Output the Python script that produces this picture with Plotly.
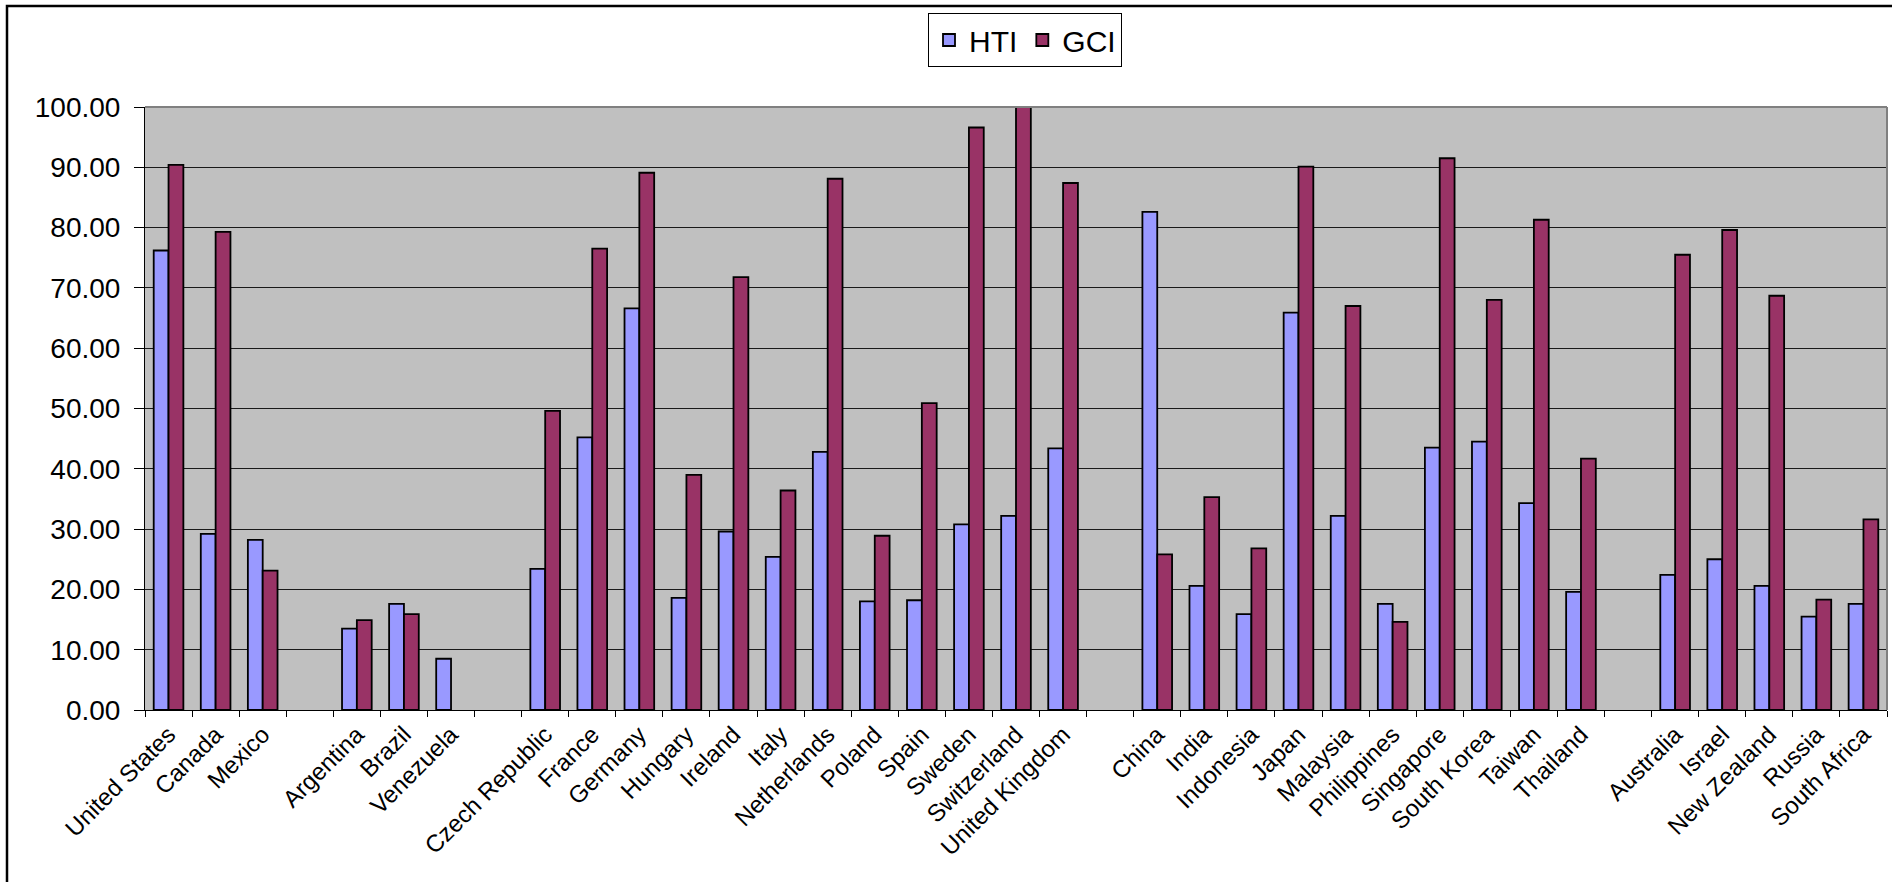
import plotly.graph_objects as go

# Country slots; blank entries separate the regional groups
countries = [
    "United States", "Canada", "Mexico", " ",
    "Argentina", "Brazil", "Venezuela", "  ",
    "Czech Republic", "France", "Germany", "Hungary", "Ireland", "Italy",
    "Netherlands", "Poland", "Spain", "Sweden", "Switzerland", "United Kingdom", "   ",
    "China", "India", "Indonesia", "Japan", "Malaysia", "Philippines", "Singapore",
    "South Korea", "Taiwan", "Thailand", "    ",
    "Australia", "Israel", "New Zealand", "Russia", "South Africa",
]

hti = [
    76.2, 29.2, 28.2, None,
    13.5, 17.6, 8.5, None,
    23.4, 45.2, 66.6, 18.6, 29.6, 25.4,
    42.8, 18.0, 18.2, 30.8, 32.2, 43.4, None,
    82.6, 20.6, 15.9, 65.9, 32.2, 17.6, 43.5,
    44.5, 34.3, 19.6, None,
    22.4, 25.0, 20.6, 15.5, 17.6,
]

gci = [
    90.4, 79.3, 23.1, None,
    14.9, 15.9, None, None,
    49.6, 76.5, 89.1, 39.0, 71.8, 36.4,
    88.1, 28.9, 50.9, 96.6, 100.0, 87.4, None,
    25.8, 35.3, 26.8, 90.1, 67.0, 14.6, 91.5,
    68.0, 81.3, 41.7, None,
    75.5, 79.6, 68.7, 18.3, 31.6,
]

y_ticks = [0, 10, 20, 30, 40, 50, 60, 70, 80, 90, 100]

W, H = 1892, 882
L, R, T, B = 145, 1887, 107, 710  # plot area in pixels
FONT = "Liberation Sans, Arial, sans-serif"


def px_x(p):
    return (p - L) / (R - L)


def px_y(p):
    return (B - p) / (B - T)


fig = go.Figure()
fig.add_trace(go.Bar(
    name="HTI", x=countries, y=hti,
    marker=dict(color="#9999FF", line=dict(color="black", width=1.8)),
))
fig.add_trace(go.Bar(
    name="GCI", x=countries, y=gci,
    marker=dict(color="#993366", line=dict(color="black", width=1.8)),
))

shapes = [
    # outer chart frame
    dict(type="rect", xref="paper", yref="paper",
         x0=px_x(7), x1=px_x(W + 10), y0=px_y(H + 10), y1=px_y(6),
         line=dict(color="black", width=2.5), fillcolor="rgba(0,0,0,0)", layer="above"),
    # grey top and right edges of the plot area
    dict(type="line", xref="paper", yref="paper", x0=0, x1=1, y0=1, y1=1,
         line=dict(color="#808080", width=2), layer="above"),
    dict(type="line", xref="paper", yref="paper", x0=1, x1=1, y0=0, y1=1,
         line=dict(color="#808080", width=2), layer="above"),
]

fig.update_layout(
    width=W, height=H,
    margin=dict(l=L, r=W - R, t=T, b=H - B, pad=0),
    paper_bgcolor="white",
    plot_bgcolor="#C0C0C0",
    barmode="group",
    bargap=0.37,
    bargroupgap=0,
    font=dict(family=FONT, color="black"),
    showlegend=True,
    legend=dict(
        orientation="h",
        x=px_x(1025), xanchor="center",
        y=px_y(13), yanchor="top",
        bgcolor="white", bordercolor="black", borderwidth=1,
        font=dict(size=30, family=FONT, color="black"),
        itemwidth=30,
    ),
    shapes=shapes,
    xaxis=dict(
        type="category",
        categoryorder="array", categoryarray=countries,
        tickangle=-45,
        tickfont=dict(size=24, family=FONT, color="black"),
        tickson="boundaries",
        ticks="outside", ticklen=6, tickcolor="black", tickwidth=1,
        showline=True, linecolor="black", linewidth=1,
        showgrid=False,
        range=[-0.5, len(countries) - 0.5],
    ),
    yaxis=dict(
        range=[0, 100],
        tickvals=y_ticks,
        ticktext=[f"{v:.2f}" for v in y_ticks],
        tickfont=dict(size=28, family=FONT, color="black"),
        ticks="outside", ticklen=10, tickcolor="black", tickwidth=1,
        ticklabelstandoff=8,
        showline=True, linecolor="black", linewidth=1,
        showgrid=True, gridcolor="#1a1a1a", gridwidth=1,
        zeroline=False,
    ),
)

fig.write_html("out.html")
